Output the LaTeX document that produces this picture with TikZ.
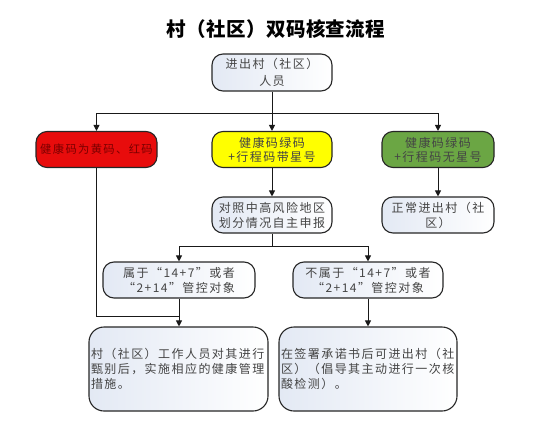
\documentclass[tikz,border=0pt]{standalone}
\usepackage{fontspec}
\setmainfont{Noto Sans CJK SC}[LetterSpace=12]
\newfontfamily\titlefont{Noto Sans CJK SC}[LetterSpace=2]
\usetikzlibrary{arrows.meta}
\definecolor{txtgray}{HTML}{444444}
\definecolor{boxred}{HTML}{E80C0C}
\definecolor{txtred}{HTML}{7A0000}
\definecolor{boxyellow}{HTML}{FFFF00}
\definecolor{boxgreen}{HTML}{6BA644}
\definecolor{tintblue}{HTML}{E3E9F4}
\tikzset{
  flowbox/.style={draw=black!85, line width=1.1pt, rounded corners=11pt, inner sep=1pt,
    text=txtgray, align=center, font=\fontsize{12}{15}\selectfont},
  plainbox/.style={flowbox, left color=tintblue, right color=white},
  conn/.style={line width=1pt, black!90},
  arr/.style={conn, -{Triangle[length=6pt,width=6pt]}}
}
\begin{document}
\begin{tikzpicture}[x=1pt,y=-1pt]
\useasboundingbox (0,0) rectangle (556,433);
\node[font=\titlefont\bfseries\fontsize{19.5}{24}\selectfont] (title) at (276,29) {村（社区）双码核查流程};

\node[plainbox, minimum width=120pt, minimum height=37pt, font=\fontsize{12}{17}\selectfont] (top) at (272,72.5) {进出村（社区）\\人员};

\node[flowbox, fill=boxred, text=txtred, minimum width=121pt, minimum height=36pt, font=\fontsize{11.3}{14}\selectfont] (red) at (96.5,149.5) {健康码为黄码、红码};
\node[flowbox, fill=boxyellow, minimum width=120pt, minimum height=36pt, font=\fontsize{12}{14}\selectfont] (yellow) at (272,149.5) {健康码绿码\\+行程码带星号};
\node[flowbox, fill=boxgreen, minimum width=112pt, minimum height=36pt, font=\fontsize{12}{14}\selectfont] (green) at (438,149.5) {健康码绿码\\+行程码无星号};

\node[plainbox, minimum width=120pt, minimum height=36pt] (check) at (272,215) {对照中高风险地区\\划分情况自主申报};
\node[plainbox, minimum width=112pt, minimum height=36pt] (normal) at (438,215) {正常进出村（社\\区）};

\node[plainbox, minimum width=152pt, minimum height=36pt] (belong) at (179,280) {属于“14+7”或者\\“2+14”管控对象};
\node[plainbox, minimum width=150pt, minimum height=36pt] (notbelong) at (368,280) {不属于“14+7”或者\\“2+14”管控对象};

\node[plainbox, rounded corners=15pt, minimum width=179pt, minimum height=84pt, align=left, text width=175pt] (lb) at (178.5,369) {村（社区）工作人员对其进行\\甄别后，实施相应的健康管理\\措施。};
\node[plainbox, rounded corners=15pt, minimum width=178pt, minimum height=84pt, align=left, text width=174pt] (rb) at (368,369) {在签署承诺书后可进出村（社\\区）（倡导其主动进行一次核\\酸检测）。};

\coordinate (j1) at (272,113);
\coordinate (j2) at (272,246);
\coordinate (jr) at (179,316);

\draw[conn] (top.south) -- (j1);
\draw[arr] (j1) -| (red.north);
\draw[arr] (j1) -- (yellow.north);
\draw[arr] (j1) -| (green.north);
\draw[arr] (yellow) -- (check);
\draw[arr] (green) -- (normal);
\draw[conn] (check.south) -- (j2);
\draw[arr] (j2) -| (belong.north);
\draw[arr] (j2) -| (notbelong.north);
\draw[conn] (red.south) |- (jr);
\draw[arr] (belong.south) -- (belong.south |- lb.north);
\draw[arr] (notbelong.south) -- (notbelong.south |- rb.north);
\end{tikzpicture}
\end{document}
